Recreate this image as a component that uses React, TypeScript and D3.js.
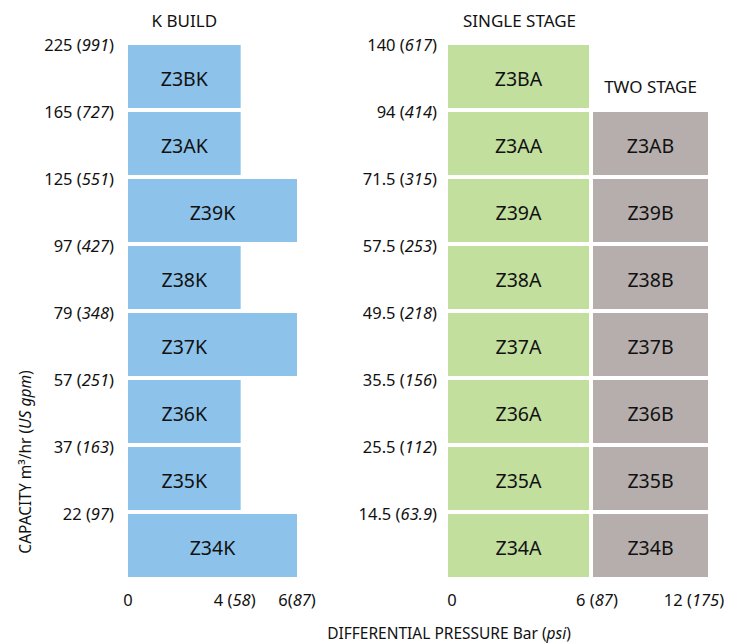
import * as d3 from "d3";
import { useEffect, useRef } from "react";

// K build (left panel), top row first
const kModels = ["Z3BK", "Z3AK", "Z39K", "Z38K", "Z37K", "Z36K", "Z35K", "Z34K"];
const kPressure = [4, 4, 6, 4, 6, 4, 4, 6];
const kLabelAt = [4, 4, 6, 4, 4, 4, 4, 6]; // label is centred over this span
const kCapM3 = ["225", "165", "125", "97", "79", "57", "37", "22"];
const kCapGpm = ["991", "727", "551", "427", "348", "251", "163", "97"];

// single / two stage (right panel)
const singleModels = ["Z3BA", "Z3AA", "Z39A", "Z38A", "Z37A", "Z36A", "Z35A", "Z34A"];
const twoModels = [null, "Z3AB", "Z39B", "Z38B", "Z37B", "Z36B", "Z35B", "Z34B"];
const sCapM3 = ["140", "94", "71.5", "57.5", "49.5", "35.5", "25.5", "14.5"];
const sCapGpm = ["617", "414", "315", "253", "218", "156", "112", "63.9"];

const kTicks = [
  { v: 0, bar: "0", psi: "" },
  { v: 4, bar: "4 ", psi: "58" },
  { v: 6, bar: "6", psi: "87" },
];
const sTicks = [
  { v: 0, bar: "0", psi: "" },
  { v: 6, bar: "6 ", psi: "87" },
  { v: 12, bar: "12 ", psi: "175" },
];

const BLUE = "#8dc3ea";
const GREEN = "#c2df9e";
const GREY = "#b5aeac";

function App() {
  const ref = useRef<SVGSVGElement | null>(null);

  useEffect(() => {
    const svg = d3.select(ref.current);
    svg.selectAll("*").remove();
    svg.attr("font-family", "'Noto Sans', sans-serif").attr("fill", "#111");

    const rows = d3.range(8).map(String);
    const y = d3.scaleBand().domain(rows).range([45, 577]).paddingInner(0.06);

    const xk = d3.scaleLinear().domain([0, 6]).range([128, 297]);
    const xs = d3.scaleLinear().domain([0, 6, 12]).range([448, 591, 708]);

    // helper: "num (italic)"
    const label = (g: any, a: string, b: string) => {
      g.append("tspan").text(a);
      if (b) {
        g.append("tspan").text("(");
        g.append("tspan").attr("font-style", "italic").text(b);
        g.append("tspan").text(")");
      }
    };

    // ---- left panel
    const left = svg.append("g");
    left.selectAll("rect")
      .data(kModels)
      .join("rect")
      .attr("x", xk(0))
      .attr("y", (_, i) => y(String(i))!)
      .attr("width", (_, i) => xk(kPressure[i]) - xk(0))
      .attr("height", y.bandwidth())
      .attr("fill", BLUE);

    left.selectAll("text.model")
      .data(kModels)
      .join("text")
      .attr("class", "model")
      .attr("x", (_, i) => (xk(0) + xk(kLabelAt[i])) / 2)
      .attr("y", (_, i) => y(String(i))! + y.bandwidth() / 2 + 2)
      .attr("text-anchor", "middle")
      .attr("dominant-baseline", "central")
      .attr("font-size", 19.5)
      .text((d) => d);

    kModels.forEach((_, i) => {
      const t = left.append("text")
        .attr("x", 114)
        .attr("y", y(String(i))! - 1)
        .attr("text-anchor", "end")
        .attr("dominant-baseline", "central")
        .attr("font-size", 16.5);
      label(t, kCapM3[i] + " ", kCapGpm[i]);
    });

    kTicks.forEach((tk) => {
      const t = left.append("text")
        .attr("x", xk(tk.v) + (tk.v === 4 ? -6 : 0))
        .attr("y", 599)
        .attr("text-anchor", "middle")
        .attr("dominant-baseline", "central")
        .attr("font-size", 16.5);
      label(t, tk.bar, tk.psi);
    });

    left.append("text")
      .attr("x", (xk(0) + xk(4)) / 2)
      .attr("y", 20)
      .attr("text-anchor", "middle")
      .attr("dominant-baseline", "central")
      .attr("font-size", 17)
      .text("K BUILD");

    // ---- right panel
    const right = svg.append("g");
    right.selectAll("rect.single")
      .data(singleModels)
      .join("rect")
      .attr("class", "single")
      .attr("x", xs(0))
      .attr("y", (_, i) => y(String(i))!)
      .attr("width", xs(6) - 2 - xs(0))
      .attr("height", y.bandwidth())
      .attr("fill", GREEN);

    right.selectAll("text.single")
      .data(singleModels)
      .join("text")
      .attr("class", "single")
      .attr("x", (xs(0) + xs(6) - 2) / 2)
      .attr("y", (_, i) => y(String(i))! + y.bandwidth() / 2 + 2)
      .attr("text-anchor", "middle")
      .attr("dominant-baseline", "central")
      .attr("font-size", 19.5)
      .text((d) => d);

    const two = twoModels
      .map((m, i) => ({ m, i }))
      .filter((d) => d.m !== null);

    right.selectAll("rect.two")
      .data(two)
      .join("rect")
      .attr("class", "two")
      .attr("x", xs(6) + 2)
      .attr("y", (d) => y(String(d.i))!)
      .attr("width", xs(12) - xs(6) - 2)
      .attr("height", y.bandwidth())
      .attr("fill", GREY);

    right.selectAll("text.two")
      .data(two)
      .join("text")
      .attr("class", "two")
      .attr("x", (xs(6) + 2 + xs(12)) / 2)
      .attr("y", (d) => y(String(d.i))! + y.bandwidth() / 2 + 2)
      .attr("text-anchor", "middle")
      .attr("dominant-baseline", "central")
      .attr("font-size", 19.5)
      .text((d) => d.m as string);

    singleModels.forEach((_, i) => {
      const t = right.append("text")
        .attr("x", 437)
        .attr("y", y(String(i))! - 1)
        .attr("text-anchor", "end")
        .attr("dominant-baseline", "central")
        .attr("font-size", 16.5);
      label(t, sCapM3[i] + " ", sCapGpm[i]);
    });

    sTicks.forEach((tk) => {
      const t = right.append("text")
        .attr("x", xs(tk.v) + (tk.v === 0 ? 4 : tk.v === 6 ? 6 : -14))
        .attr("y", 599)
        .attr("text-anchor", "middle")
        .attr("dominant-baseline", "central")
        .attr("font-size", 16.5);
      label(t, tk.bar, tk.psi);
    });

    right.append("text")
      .attr("x", (xs(0) + xs(6)) / 2)
      .attr("y", 20)
      .attr("text-anchor", "middle")
      .attr("dominant-baseline", "central")
      .attr("font-size", 17)
      .text("SINGLE STAGE");

    right.append("text")
      .attr("x", (xs(6) + 2 + xs(12)) / 2)
      .attr("y", 86)
      .attr("text-anchor", "middle")
      .attr("dominant-baseline", "central")
      .attr("font-size", 17)
      .text("TWO STAGE");

    // ---- axis titles
    const xt = svg.append("text")
      .attr("x", 449)
      .attr("y", 633)
      .attr("text-anchor", "middle")
      .attr("dominant-baseline", "central")
      .attr("font-size", 15.5);
    label(xt, "DIFFERENTIAL PRESSURE Bar ", "psi");

    const yt = svg.append("text")
      .attr("transform", "translate(25,462) rotate(-90)")
      .attr("text-anchor", "middle")
      .attr("dominant-baseline", "central")
      .attr("font-size", 15.5);
    label(yt, "CAPACITY m³/hr ", "US gpm");
  }, []);

  return (
    <svg
      ref={ref}
      width={740}
      height={644}
      style={{ position: "absolute", left: 0, top: 0 }}
    ></svg>
  );
}

export default App;
